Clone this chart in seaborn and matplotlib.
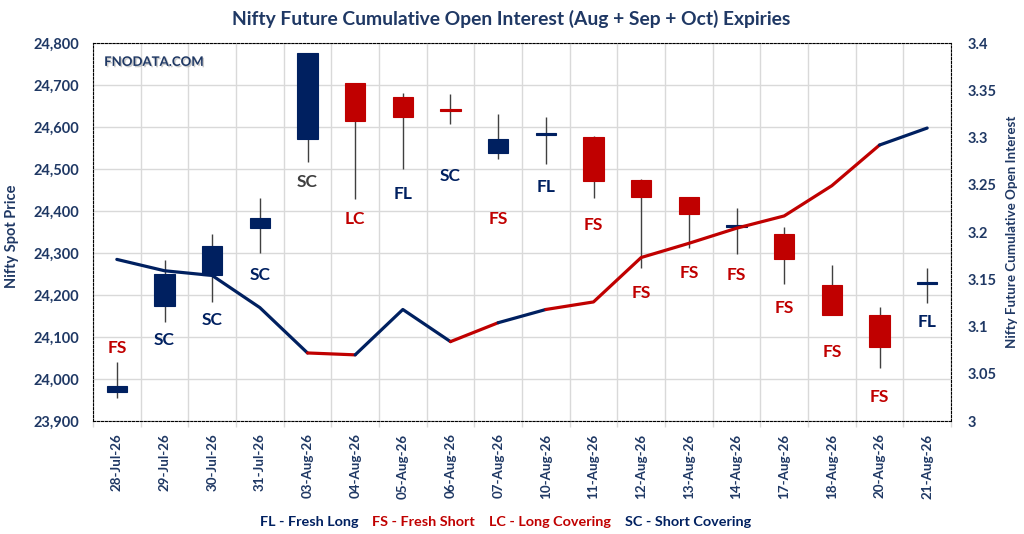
import numpy as np
import pandas as pd
import seaborn as sns
import matplotlib.pyplot as plt
import matplotlib.patheffects as pe

# Nifty daily candles and cumulative OI
dates = ['28-Jul-26', '29-Jul-26', '30-Jul-26', '31-Jul-26', '03-Aug-26', '04-Aug-26',
         '05-Aug-26', '06-Aug-26', '07-Aug-26', '10-Aug-26', '11-Aug-26', '12-Aug-26',
         '13-Aug-26', '14-Aug-26', '17-Aug-26', '18-Aug-26', '20-Aug-26', '21-Aug-26']
opens = [23969, 24174, 24248, 24360, 24571, 24705, 24671, 24642, 24538, 24581, 24576, 24474,
         24433, 24362, 24345, 24224, 24152, 24227]
highs = [24040, 24283, 24345, 24431, 24776, 24705, 24681, 24679, 24631, 24624, 24579, 24476,
         24433, 24407, 24362, 24271, 24171, 24264]
lows = [23955, 24136, 24183, 24300, 24517, 24429, 24500, 24607, 24524, 24512, 24431, 24264,
        24312, 24298, 24226, 24152, 24026, 24181]
closes = [23983, 24250, 24317, 24383, 24776, 24614, 24624, 24638, 24571, 24585, 24471, 24433,
          24393, 24366, 24286, 24152, 24076, 24231]
oi = [3.171, 3.159, 3.154, 3.120, 3.072, 3.070, 3.118, 3.084, 3.104, 3.118, 3.126, 3.173,
      3.188, 3.204, 3.217, 3.249, 3.292, 3.310]
tags = ['FS', 'SC', 'SC', 'SC', 'SC', 'LC', 'FL', 'SC', 'FS', 'FL', 'FS', 'FS',
        'FS', 'FS', 'FS', 'FS', 'FS', 'FL']
tag_levels = [24074, 24093, 24140, 24248, 24469, 24381, 24440, 24483, 24381, 24457, 24367, 24205,
              24252, 24248, 24169, 24064, 23957, 24136]
legend_items = ['FL - Fresh Long', 'FS - Fresh Short', 'LC - Long Covering', 'SC - Short Covering']

NAVY = '#002060'
RED = '#C00000'
TEXT = '#1F3864'
tag_color = {'FL': NAVY, 'SC': NAVY, 'FS': RED, 'LC': RED}

sns.set_theme(style='white')
plt.rcParams['font.family'] = ['Lato', 'DejaVu Sans']
plt.rcParams['font.weight'] = 'bold'

x = np.arange(len(dates))
o = np.array(opens)
c = np.array(closes)
candle_cols = [NAVY if cc >= oo else RED for oo, cc in zip(o, c)]

fig = plt.figure(figsize=(10.24, 5.34), dpi=100)
ax = fig.add_axes([93 / 1024, 113 / 534, 858 / 1024, 378 / 534])

# candles
ax.vlines(x, lows, highs, color='#404040', lw=1, zorder=2)
ax.bar(x, np.abs(c - o), bottom=np.minimum(o, c), width=0.42, color=candle_cols,
       edgecolor=candle_cols, linewidth=0.8, zorder=3)

# activity tags
for i, t in enumerate(tags):
    col = '#404040' if i == 4 else tag_color[t]
    ax.text(x[i], tag_levels[i], t, color=col, fontsize=12.5, fontweight='bold',
            ha='center', va='center', zorder=4)

ax.set_xlim(-0.5, len(dates) - 0.5)
ax.set_ylim(23900, 24800)
ax.set_yticks(np.arange(23900, 24801, 100))
ax.set_yticklabels([f'{v:,}' for v in range(23900, 24801, 100)])
ax.set_xticks(x)
ax.set_xticklabels(dates, rotation=90)
ax.set_xticks(np.arange(-0.5, len(dates), 1), minor=True)
ax.grid(which='major', axis='y', color='#D9D9D9', lw=1)
ax.grid(which='minor', axis='x', color='#D9D9D9', lw=1)
ax.set_axisbelow(True)
ax.tick_params(axis='y', length=0, pad=10, labelsize=10.5, labelcolor=TEXT)
ax.tick_params(axis='x', which='major', length=0, pad=9, labelsize=9.6, labelcolor=TEXT)
ax.tick_params(axis='x', which='minor', length=4, color='#D9D9D9', bottom=True)
for s in ax.spines.values():
    s.set_linestyle((0, (2, 1.5)))
    s.set_linewidth(0.8)
    s.set_color('black')

# OI line, coloured by tag of each day
ax2 = ax.twinx()
seg_cols = ['red' if tags[i] in ('FS', 'LC') else 'navy' for i in range(1, len(tags))]
rows = []
run = 0
for i in range(1, len(tags)):
    if i > 1 and seg_cols[i - 1] != seg_cols[i - 2]:
        run += 1
    rows.append((run, seg_cols[i - 1], x[i - 1], oi[i - 1]))
    rows.append((run, seg_cols[i - 1], x[i], oi[i]))
oi_df = pd.DataFrame(rows, columns=['run', 'col', 'pos', 'oi']).drop_duplicates()
palette = {r: (RED if cl == 'red' else NAVY) for r, cl in zip(oi_df['run'], oi_df['col'])}
sns.lineplot(data=oi_df, x='pos', y='oi', hue='run', palette=palette, sort=False,
             estimator=None, lw=2.3, legend=False, ax=ax2, zorder=5)
ax2.set_ylim(3, 3.4)
rt = np.round(np.arange(3, 3.401, 0.05), 2)
ax2.set_yticks(rt)
ax2.set_yticklabels([f'{v:g}' for v in rt])
ax2.tick_params(axis='y', length=0, pad=12, labelsize=10.5, labelcolor=TEXT)
ax2.set_xlabel('')
ax2.set_ylabel('')
ax2.grid(False)
for s in ax2.spines.values():
    s.set_visible(False)
ax.set_xlabel('')

ax.text(0.013, 0.95, 'FNODATA.COM', transform=ax.transAxes, color=TEXT, fontsize=9.5,
        fontweight='bold', va='center', ha='left',
        path_effects=[pe.withSimplePatchShadow(offset=(1, -1), shadow_rgbFace='#999999', alpha=0.5)])

fig.text(511 / 1024, 1 - 19 / 534, 'Nifty Future Cumulative Open Interest (Aug + Sep + Oct) Expiries',
         ha='center', va='center', fontsize=13.9, fontweight='bold', color=TEXT)
fig.text(12 / 1024, 1 - 236 / 534, 'Nifty Spot Price', rotation=90, ha='center', va='center',
         fontsize=10.5, fontweight='bold', color=TEXT)
fig.text(1012 / 1024, 1 - 232 / 534, 'Nifty Future Cumulative Open Interest', rotation=90,
         ha='center', va='center', fontsize=9.6, fontweight='bold', color=TEXT)

legend_x = [260, 372, 489, 625]
for lx, item in zip(legend_x, legend_items):
    col = tag_color[item[:2]]
    fig.text(lx / 1024, 1 - 522 / 534, item, ha='left', va='center', fontsize=10.4,
             fontweight='bold', color=col)

fig.savefig('out.png', dpi=100)
